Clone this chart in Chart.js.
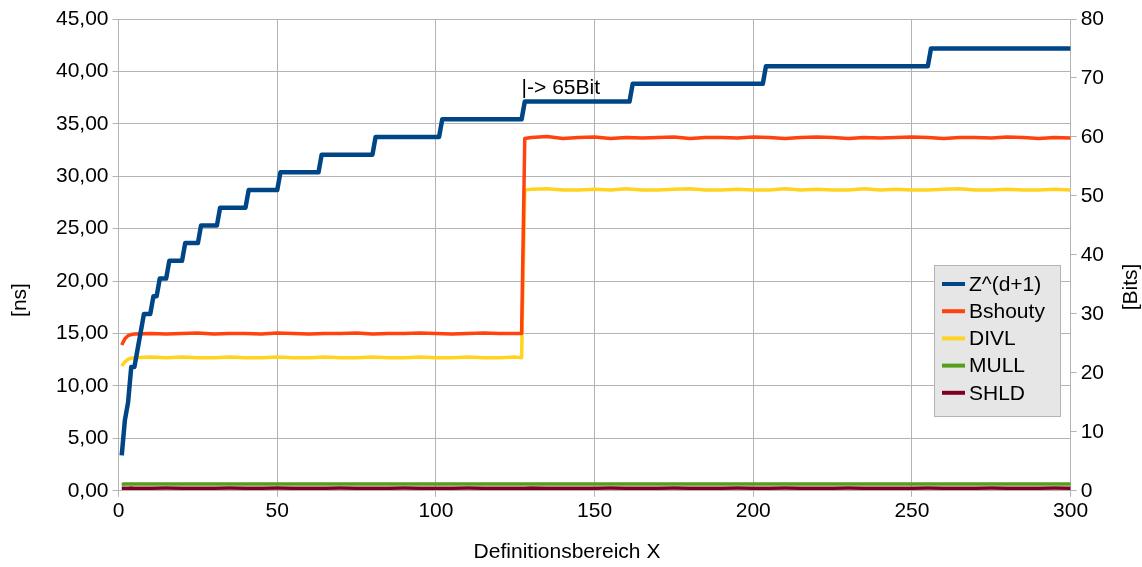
<!DOCTYPE html>
<html>
<head>
<meta charset="utf-8">
<script src="https://cdn.jsdelivr.net/npm/chart.js@4/dist/chart.umd.min.js"></script>
<style>
  html, body { margin: 0; padding: 0; background: #fff; }
  #wrap { width: 1142px; height: 567px; }
</style>
</head>
<body>
<div id="wrap"><canvas id="chart" width="1142" height="567"></canvas></div>
<script>
// Z^(d+1) in Bits (rechte Achse), Knickpunkte der Treppe
const zX = [1, 2, 3, 4, 5, 6, 7, 8, 10, 11, 12, 13, 15, 16, 20, 21, 25, 26, 31, 32, 40, 41, 50, 51, 63, 64, 80, 81, 101, 102, 127, 128, 161, 162, 203, 204, 255, 256, 300];
const zBits = [6, 12, 15, 21, 21, 24, 27, 30, 30, 33, 33, 36, 36, 39, 39, 42, 42, 45, 45, 48, 48, 51, 51, 54, 54, 57, 57, 60, 60, 63, 63, 66, 66, 69, 69, 72, 72, 75, 75];

// Messwerte in ns (linke Achse)
const xs = [1, 2, 3, 4,
  5, 10, 15, 20, 25, 30, 35, 40, 45, 50, 55, 60, 65, 70, 75, 80, 85, 90, 95, 100, 105, 110, 115, 120, 125,
  127, 128,
  130, 135, 140, 145, 150, 155, 160, 165, 170, 175, 180, 185, 190, 195, 200, 205, 210, 215, 220, 225, 230, 235, 240, 245, 250, 255, 260, 265, 270, 275, 280, 285, 290, 295, 300];

const bshouty = [13.9, 14.5, 14.8, 14.9,
  14.95, 15.0, 14.95, 15.0, 15.05, 14.95, 15.0, 15.0, 14.95, 15.05, 15.0, 14.95, 15.0, 15.0, 15.05, 14.95, 15.0, 15.0, 15.05, 15.0, 14.95, 15.0, 15.05, 15.0, 15.0,
  15.0, 33.6,
  33.7, 33.8, 33.6, 33.7, 33.75, 33.6, 33.7, 33.65, 33.7, 33.75, 33.6, 33.7, 33.7, 33.65, 33.75, 33.7, 33.6, 33.7, 33.75, 33.7, 33.6, 33.7, 33.65, 33.7, 33.75, 33.7, 33.6, 33.7, 33.7, 33.65, 33.75, 33.7, 33.6, 33.7, 33.65];

const divl = [11.9, 12.3, 12.55, 12.65,
  12.7, 12.75, 12.7, 12.75, 12.7, 12.7, 12.75, 12.7, 12.7, 12.75, 12.7, 12.7, 12.75, 12.7, 12.7, 12.75, 12.7, 12.7, 12.75, 12.7, 12.7, 12.75, 12.7, 12.7, 12.75,
  12.7, 28.7,
  28.75, 28.8, 28.7, 28.7, 28.75, 28.7, 28.8, 28.7, 28.7, 28.75, 28.8, 28.7, 28.7, 28.75, 28.7, 28.7, 28.8, 28.7, 28.75, 28.7, 28.7, 28.8, 28.7, 28.75, 28.7, 28.7, 28.75, 28.8, 28.7, 28.7, 28.75, 28.7, 28.7, 28.75, 28.7];

const mull = [0.62, 0.64, 0.65, 0.65,
  0.66, 0.65, 0.64, 0.66, 0.65, 0.65, 0.66, 0.64, 0.65, 0.65, 0.66, 0.65, 0.64, 0.65, 0.66, 0.65, 0.65, 0.64, 0.66, 0.65, 0.65, 0.66, 0.65, 0.64, 0.65,
  0.65, 0.65,
  0.66, 0.65, 0.64, 0.65, 0.66, 0.65, 0.65, 0.64, 0.66, 0.65, 0.65, 0.66, 0.64, 0.65, 0.65, 0.66, 0.65, 0.64, 0.65, 0.66, 0.65, 0.65, 0.64, 0.66, 0.65, 0.65, 0.66, 0.64, 0.65, 0.65, 0.66, 0.65, 0.64, 0.65, 0.65];

const shld = [0.24, 0.25, 0.25, 0.26,
  0.25, 0.24, 0.26, 0.25, 0.25, 0.24, 0.26, 0.25, 0.25, 0.26, 0.24, 0.25, 0.25, 0.26, 0.25, 0.24, 0.25, 0.26, 0.25, 0.25, 0.24, 0.26, 0.25, 0.25, 0.24,
  0.25, 0.25,
  0.26, 0.25, 0.24, 0.25, 0.25, 0.26, 0.25, 0.24, 0.25, 0.26, 0.25, 0.25, 0.24, 0.26, 0.25, 0.25, 0.26, 0.24, 0.25, 0.25, 0.26, 0.25, 0.24, 0.25, 0.25, 0.26, 0.25, 0.24, 0.25, 0.26, 0.25, 0.25, 0.24, 0.26, 0.25];

const seriesNames = ['Z^(d+1)', 'Bshouty', 'DIVL', 'MULL', 'SHLD'];
const seriesColors = ['#004586', '#ff420e', '#ffd320', '#579d1c', '#7e0021'];

const FONT = "'Liberation Sans', Arial, sans-serif";
const GRID = '#b3b3b3';

const toPoints = (xv, yv) => xv.map((x, i) => ({ x: x, y: yv[i] }));

// Achsentitel, Legende im Diagrammbereich, Beschriftung "|-> 65Bit"
const overlay = {
  id: 'overlay',
  afterDatasetsDraw(chart) {
    const ctx = chart.ctx;
    const sx = chart.scales.x, y2 = chart.scales.y2;
    ctx.save();
    ctx.font = '21px ' + FONT;
    ctx.fillStyle = '#000';
    ctx.textBaseline = 'alphabetic';
    ctx.textAlign = 'left';
    ctx.fillText('|-> 65Bit', sx.getPixelForValue(127), y2.getPixelForValue(66) - 8);

    // Achsentitel
    ctx.textAlign = 'center';
    ctx.textBaseline = 'middle';
    ctx.fillText('Definitionsbereich X', 567, 552);
    ctx.save();
    ctx.translate(20, 300);
    ctx.rotate(-Math.PI / 2);
    ctx.fillText('[ns]', 0, 0);
    ctx.restore();
    ctx.save();
    ctx.translate(1131, 287);
    ctx.rotate(-Math.PI / 2);
    ctx.fillText('[Bits]', 0, 0);
    ctx.restore();

    // Legende
    ctx.textAlign = 'left';
    const bx = 934, by = 265, bw = 126, bh = 151;
    ctx.fillStyle = '#e6e6e6';
    ctx.fillRect(bx, by, bw, bh);
    ctx.strokeStyle = '#b3b3b3';
    ctx.lineWidth = 1;
    ctx.strokeRect(bx + 0.5, by + 0.5, bw, bh);
    chart.data.datasets.forEach((ds, i) => {
      const ry = 284 + i * 27.2;
      ctx.strokeStyle = ds.borderColor;
      ctx.lineWidth = 4;
      ctx.beginPath();
      ctx.moveTo(942, ry);
      ctx.lineTo(965, ry);
      ctx.stroke();
      ctx.fillStyle = '#000';
      ctx.textBaseline = 'middle';
      ctx.fillText(ds.label, 969, ry + 1);
    });
    ctx.restore();
  }
};

new Chart(document.getElementById('chart').getContext('2d'), {
  type: 'line',
  data: {
    datasets: [
      { label: seriesNames[0], data: toPoints(zX, zBits), yAxisID: 'y2', borderColor: seriesColors[0], borderWidth: 4.5 },
      { label: seriesNames[1], data: toPoints(xs, bshouty), yAxisID: 'y', borderColor: seriesColors[1], borderWidth: 3.5 },
      { label: seriesNames[2], data: toPoints(xs, divl), yAxisID: 'y', borderColor: seriesColors[2], borderWidth: 3.5 },
      { label: seriesNames[3], data: toPoints(xs, mull), yAxisID: 'y', borderColor: seriesColors[3], borderWidth: 3.5 },
      { label: seriesNames[4], data: toPoints(xs, shld), yAxisID: 'y', borderColor: seriesColors[4], borderWidth: 3.5 }
    ]
  },
  options: {
    responsive: false,
    animation: false,
    devicePixelRatio: 1,
    elements: { point: { radius: 0 }, line: { tension: 0, borderJoinStyle: 'round', borderCapStyle: 'butt' } },
    layout: { padding: { top: 19, right: 34, left: 52, bottom: 41 } },
    plugins: {
      legend: { display: false },
      tooltip: { enabled: false }
    },
    scales: {
      x: {
        type: 'linear',
        min: 0, max: 300,
        border: { color: GRID },
        grid: { color: GRID, tickLength: 6 },
        ticks: { stepSize: 50, color: '#000', font: { family: FONT, size: 21 }, maxRotation: 0, padding: 2 }
      },
      y: {
        position: 'left',
        min: 0, max: 45,
        border: { color: GRID },
        grid: { color: GRID, tickLength: 6 },
        ticks: {
          stepSize: 5, color: '#000', font: { family: FONT, size: 21 }, padding: 4,
          callback: v => v.toFixed(2).replace('.', ',')
        }
      },
      y2: {
        position: 'right',
        min: 0, max: 80,
        border: { color: GRID },
        grid: { drawOnChartArea: false, color: GRID, tickLength: 6 },
        ticks: { stepSize: 10, color: '#000', font: { family: FONT, size: 21 }, padding: 4 }
      }
    }
  },
  plugins: [overlay]
});
</script>
</body>
</html>
